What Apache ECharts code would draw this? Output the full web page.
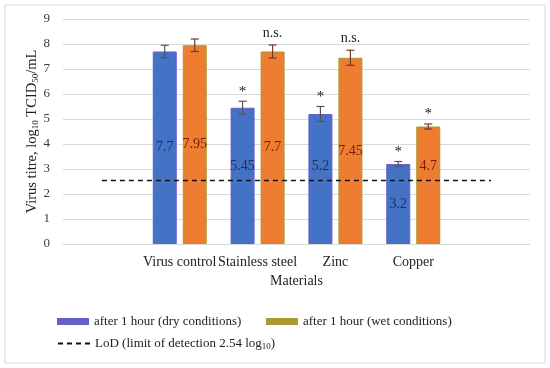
<!DOCTYPE html>
<html>
<head>
<meta charset="utf-8">
<script src="https://cdn.jsdelivr.net/npm/echarts@6/dist/echarts.min.js"></script>
<style>
html,body{margin:0;padding:0;background:#fff;}
#chart{width:550px;height:368px;}
</style>
</head>
<body>
<div id="chart"></div>
<script>
// ---- data ----
const materials = ['Virus control', 'Stainless steel', 'Zinc', 'Copper'];
const dryValues = [7.7, 5.45, 5.2, 3.2];
const wetValues = [7.95, 7.7, 7.45, 4.7];
const dryErrors = [0.25, 0.26, 0.3, 0.1];
const wetErrors = [0.25, 0.26, 0.3, 0.1];
const drySignif = ['', '*', '*', '*'];
const wetSignif = ['', 'n.s.', 'n.s.', '*'];
const lodValue = 2.54;
const yMin = 0, yMax = 9, yInterval = 1;

// ---- styling ----
const FONT = '"Liberation Serif", "DejaVu Serif", serif';
const TXT = '#3a3a3a';
const BAR_W = 24, BAR_GAP_PX = 6;
const GRID = { left: 63, right: 20, top: 19, bottom: 124 };
const CHART_H = 368;
const PX_PER_UNIT = (CHART_H - GRID.top - GRID.bottom) / (yMax - yMin);

// padded category axis (empty slot each side, as in the original)
const cats = [''].concat(materials, ['']);
const lodData = cats.map(() => lodValue);

// value labels sit mid-bar, nudged above the LoD line when they would collide with it
function labelled(values) {
  const items = values.map(v => {
    const mid = v / 2;
    let shift = 0;
    if (Math.abs(mid - lodValue) < 0.45) shift = -((lodValue + 0.55) - mid) * PX_PER_UNIT;
    return { value: v, label: { offset: [0, shift] } };
  });
  return ['-'].concat(items, ['-']);
}

function errSeries(name, values, errors, marks, offsetSign, color) {
  const data = values.map((v, i) => [i + 1, v, errors[i], marks[i]]);
  return {
    type: 'custom',
    name: name,
    z: 5,
    silent: true,
    encode: { x: 0, y: 1 },
    data: data,
    renderItem: function (params, api) {
      const idx = api.value(0);
      const v = api.value(1);
      const e = api.value(2);
      const mark = data[params.dataIndex][3];
      const cx = api.coord([idx, 0])[0] + offsetSign * (BAR_W + BAR_GAP_PX) / 2;
      const top = api.coord([idx, v + e])[1];
      const bot = api.coord([idx, v - e])[1];
      const cap = 4;
      const ls = { stroke: color, lineWidth: 1.2 };
      const children = [
        { type: 'line', shape: { x1: cx, y1: top, x2: cx, y2: bot }, style: ls },
        { type: 'line', shape: { x1: cx - cap, y1: top, x2: cx + cap, y2: top }, style: ls },
        { type: 'line', shape: { x1: cx - cap, y1: bot, x2: cx + cap, y2: bot }, style: ls }
      ];
      if (mark) {
        children.push({
          type: 'text',
          style: {
            text: mark, x: cx, y: mark === '*' ? top - 2 : top - 5,
            align: 'center', verticalAlign: 'bottom',
            fontSize: mark === '*' ? 15 : 14, fontFamily: FONT, fill: '#222'
          }
        });
      }
      return { type: 'group', children: children };
    }
  };
}

const chart = echarts.init(document.getElementById('chart'), null, { renderer: 'canvas' });
const option = {
  animation: false,
  backgroundColor: '#fff',
  textStyle: { fontFamily: FONT },
  graphic: [{
    type: 'rect', shape: { x: 5, y: 5, width: 540, height: 358 },
    style: { fill: 'none', stroke: '#d9d9d9', lineWidth: 1 }, silent: true, z: -10
  }],
  grid: GRID,
  xAxis: {
    type: 'category',
    data: cats,
    name: 'Materials',
    nameLocation: 'middle',
    nameGap: 30,
    nameTextStyle: { fontFamily: FONT, fontSize: 14, color: '#222' },
    axisLine: { lineStyle: { color: '#d9d9d9', width: 1 } },
    axisTick: { show: false },
    axisLabel: { fontFamily: FONT, fontSize: 14, color: '#222', margin: 11, interval: 0 }
  },
  yAxis: {
    type: 'value',
    min: yMin, max: yMax, interval: yInterval,
    name: '{a|Virus titre, log}{s|10}{a| TCID}{s|50}{a|/mL}',
    nameLocation: 'middle',
    nameGap: 23,
    nameMoveOverlap: false,
    nameRotate: 90,
    nameTextStyle: {
      rich: {
        a: { fontFamily: FONT, fontSize: 14.5, color: '#222' },
        s: { fontFamily: FONT, fontSize: 9, color: '#222', padding: [7, 0, 0, 0] }
      }
    },
    axisLine: { show: false },
    axisTick: { show: false },
    splitLine: { lineStyle: { color: '#d9d9d9', width: 1 } },
    axisLabel: { fontFamily: FONT, fontSize: 13, color: TXT, margin: 13 }
  },
  legend: [
    {
      left: 52, top: 310, itemWidth: 32, itemHeight: 7, itemGap: 10,
      textStyle: { fontFamily: FONT, fontSize: 13, color: '#222' },
      data: [{ name: 'after 1 hour (dry conditions)', icon: 'rect', itemStyle: { color: '#6161c9', borderWidth: 0 } }]
    },
    {
      left: 261, top: 310, itemWidth: 32, itemHeight: 7, itemGap: 10,
      textStyle: { fontFamily: FONT, fontSize: 13, color: '#222' },
      data: [{ name: 'after 1 hour (wet conditions)', icon: 'rect', itemStyle: { color: '#a9992f', borderWidth: 0 } }]
    },
    {
      left: 52, top: 332, itemWidth: 32, itemHeight: 7,
      itemStyle: { opacity: 0 },
      textStyle: {
        fontFamily: FONT, fontSize: 13, color: '#222',
        rich: { s: { fontFamily: FONT, fontSize: 9, color: '#222', padding: [6, 0, 0, 0] } }
      },
      formatter: function () { return 'LoD (limit of detection 2.54 log{s|10})'; },
      data: ['LoD']
    }
  ],
  series: [
    {
      type: 'bar',
      name: 'after 1 hour (dry conditions)',
      data: labelled(dryValues),
      barWidth: BAR_W,
      barGap: (BAR_GAP_PX / BAR_W * 100) + '%',
      itemStyle: { color: '#4472c4', borderColor: '#6a5acd', borderWidth: 1 },
      label: { show: true, position: 'inside', fontFamily: FONT, fontSize: 14, color: '#1f2d5c' }
    },
    {
      type: 'bar',
      name: 'after 1 hour (wet conditions)',
      data: labelled(wetValues),
      barWidth: BAR_W,
      itemStyle: { color: '#ed7d31', borderColor: '#a89a2e', borderWidth: 1 },
      label: { show: true, position: 'inside', fontFamily: FONT, fontSize: 14, color: '#7a1a08' }
    },
    {
      type: 'line',
      name: 'LoD',
      data: lodData,
      symbol: 'none',
      z: 4,
      lineStyle: { color: '#111', width: 1.5, type: [5, 4] },
      itemStyle: { color: '#111' }
    },
    errSeries('errDry', dryValues, dryErrors, drySignif, -1, '#555555'),
    errSeries('errWet', wetValues, wetErrors, wetSignif, 1, '#6e3b2a')
  ]
};
chart.setOption(option);
</script>
</body>
</html>
